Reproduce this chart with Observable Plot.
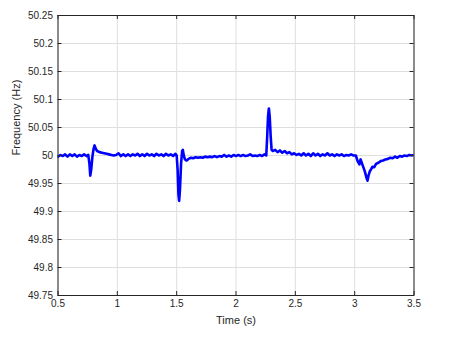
<!DOCTYPE html>
<html>
<head>
<meta charset="utf-8">
<script src="https://cdn.jsdelivr.net/npm/d3@7"></script>
<script src="https://cdn.jsdelivr.net/npm/@observablehq/plot@0.6"></script>
<style>
  html, body { margin: 0; padding: 0; background: #fff; }
  #chart { width: 454px; height: 343px; }
  svg { font-family: "Liberation Sans", Arial, sans-serif; }
</style>
</head>
<body>
<div id="chart"></div>
<script>
// Time samples (s)
const time = [
  0.50,0.52,0.54,0.56,0.58,0.60,0.62,0.64,0.66,0.68,0.70,0.72,0.74,0.755,
  0.765,0.772,0.780,0.790,0.800,0.808,0.818,0.83,0.85,0.87,0.89,0.91,0.93,0.95,0.97,0.99,
  1.01,1.03,1.05,1.07,1.09,1.11,1.13,1.15,1.17,1.19,1.21,1.23,1.25,1.27,1.29,1.31,1.33,1.35,
  1.37,1.39,1.41,1.43,1.45,1.47,1.49,1.50,
  1.508,1.515,1.521,1.528,1.537,1.546,1.552,1.560,1.570,1.585,
  1.60,1.62,1.64,1.66,1.68,1.70,1.72,1.74,1.76,1.78,1.80,1.82,1.84,1.86,1.88,1.90,1.92,1.94,1.96,1.98,
  2.00,2.02,2.04,2.06,2.08,2.10,2.12,2.14,2.16,2.18,2.20,2.22,2.24,2.255,
  2.262,2.270,2.277,2.284,2.292,2.300,
  2.31,2.33,2.35,2.37,2.39,2.41,2.43,2.45,2.47,2.49,2.51,2.53,2.55,2.57,2.59,2.61,2.63,2.65,
  2.67,2.69,2.71,2.73,2.75,2.77,2.79,2.81,2.83,2.85,2.87,2.89,2.91,2.93,2.95,2.97,2.99,3.01,
  3.025,3.040,3.050,3.063,3.085,3.100,3.108,3.118,3.128,3.140,3.150,3.165,3.18,
  3.20,3.22,3.24,3.26,3.28,3.30,3.32,3.34,3.36,3.38,3.40,3.42,3.44,3.46,3.48,3.50
];
// Frequency (Hz)
const frequency = [
  49.998,50.001,49.999,50.002,49.998,50.002,49.999,50.002,49.998,50.001,49.999,50.002,49.999,50.001,
  49.985,49.964,49.975,49.998,50.012,50.018,50.012,50.008,50.006,50.005,50.004,50.003,50.002,50.001,50.000,50.001,
  50.004,49.999,50.002,49.999,50.002,49.999,50.002,50.000,50.003,49.999,50.002,49.999,50.003,50.000,50.002,49.999,50.003,50.000,
  50.002,49.999,50.003,50.000,50.002,49.999,50.003,50.000,
  49.975,49.930,49.919,49.940,49.985,50.008,50.010,50.000,49.993,49.991,
  49.994,49.996,49.995,49.997,49.996,49.997,49.996,49.998,49.997,49.998,49.997,49.999,49.997,49.999,49.998,50.001,49.998,50.000,49.998,50.001,
  49.999,50.001,49.999,50.001,49.999,50.000,50.002,49.999,50.000,49.999,50.001,49.999,50.002,50.000,
  50.030,50.070,50.084,50.070,50.035,50.010,
  50.008,50.010,50.006,50.009,50.005,50.008,50.004,50.006,50.002,50.004,50.001,50.003,50.000,50.004,50.000,50.003,49.999,50.004,
  50.000,50.003,49.999,50.002,50.000,50.004,50.000,50.002,49.999,50.002,50.000,50.002,49.999,50.001,50.000,50.002,50.000,50.000,
  49.990,49.984,49.993,49.985,49.972,49.960,49.955,49.965,49.972,49.976,49.980,49.979,49.985,
  49.987,49.990,49.991,49.993,49.994,49.996,49.995,49.998,49.996,49.999,49.998,50.000,49.999,50.001,50.000,50.001
];
const xTicks = [0.5, 1, 1.5, 2, 2.5, 3, 3.5];
const yTicks = [49.75, 49.8, 49.85, 49.9, 49.95, 50, 50.05, 50.1, 50.15, 50.2, 50.25];
const xLabel = "Time (s)";
const yLabel = "Frequency (Hz)";

const data = time.map((t, i) => ({t, f: frequency[i]}));
const fmt = d => String(+d.toFixed(2));
const ink = "#262626";

const W = 454, H = 343;
const ml = 57.5, mr = 40.5, mt = 15, mb = 48;
const iw = W - ml - mr, ih = H - mt - mb;
const tl = 4;

const chart = Plot.plot({
  width: W, height: H,
  marginLeft: ml, marginRight: mr, marginTop: mt, marginBottom: mb,
  style: {background: "#fff", color: ink, fontFamily: "'Liberation Sans', Arial, sans-serif", fontSize: "10px"},
  x: {domain: [0.5, 3.5], ticks: xTicks},
  y: {domain: [49.75, 50.25], ticks: yTicks},
  marks: [
    Plot.gridX(xTicks, {stroke: "#dfdfdf", strokeOpacity: 1}),
    Plot.gridY(yTicks, {stroke: "#dfdfdf", strokeOpacity: 1}),
    Plot.line(data, {x: "t", y: "f", stroke: "#0000ff", strokeWidth: 2.6, strokeLinejoin: "round", clip: true}),
    Plot.frame({stroke: ink, strokeWidth: 1}),
    Plot.tickX(xTicks, {x: d => d, stroke: ink, insetTop: ih - tl}),
    Plot.tickX(xTicks, {x: d => d, stroke: ink, insetBottom: ih - tl}),
    Plot.tickY(yTicks, {y: d => d, stroke: ink, insetRight: iw - tl}),
    Plot.tickY(yTicks, {y: d => d, stroke: ink, insetLeft: iw - tl}),
    Plot.axisX(xTicks, {tickSize: 0, tickPadding: 4, tickFormat: fmt, label: null, fontSize: 10, fill: ink}),
    Plot.axisY(yTicks, {tickSize: 0, tickPadding: 5, tickFormat: fmt, label: null, fontSize: 10, fill: ink}),
    Plot.text([xLabel], {frameAnchor: "bottom", dy: 28, fontSize: 11, fill: ink}),
    Plot.text([yLabel], {frameAnchor: "left", dx: -41.5, rotate: -90, fontSize: 11, fill: ink})
  ]
});
document.getElementById("chart").appendChild(chart);
</script>
</body>
</html>
